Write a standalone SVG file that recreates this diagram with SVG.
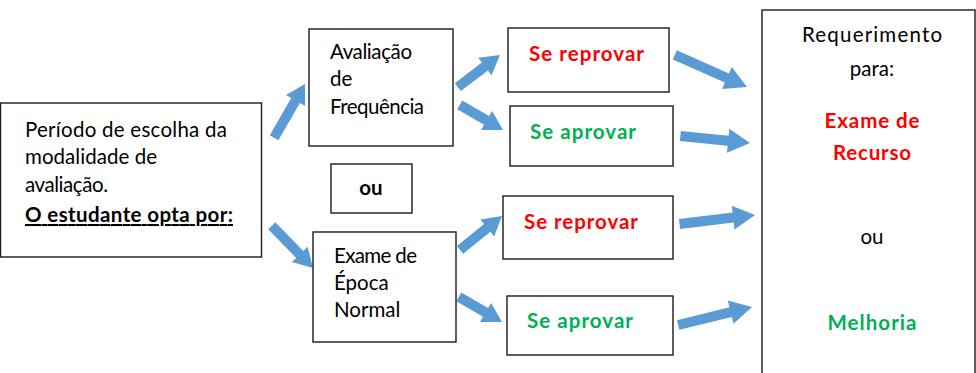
<svg xmlns="http://www.w3.org/2000/svg" width="976" height="373" viewBox="0 0 976 373">
<style>
.box{fill:#fff;stroke:#1a1a1a;stroke-width:1.4}
.t{font-family:Lato,"Liberation Sans",sans-serif;font-size:20.5px;fill:#000}
.b{font-weight:bold}
.red{fill:#ff0000}
.green{fill:#00b050}
.arr{fill:#5b9bd5}
</style>
<rect width="976" height="373" fill="#fff"/>
<g id="connectors">
<polygon class="arr" points="-62,-5 -19,-5 -19,-11 0,0 -19,11 -19,5 -62,5" transform="translate(305,84) rotate(-60.1)"/>
<polygon class="arr" points="-59,-5 -19,-5 -19,-11 0,0 -19,11 -19,5 -59,5" transform="translate(313,268) rotate(45.7)"/>
<polygon class="arr" points="-53,-5 -19,-5 -19,-11 0,0 -19,11 -19,5 -53,5" transform="translate(500,55) rotate(-37.3)"/>
<polygon class="arr" points="-50,-5 -19,-5 -19,-11 0,0 -19,11 -19,5 -50,5" transform="translate(503,130) rotate(30.2)"/>
<polygon class="arr" points="-54,-5 -19,-5 -19,-11 0,0 -19,11 -19,5 -54,5" transform="translate(502,216) rotate(-39)"/>
<polygon class="arr" points="-50,-5 -19,-5 -19,-11 0,0 -19,11 -19,5 -50,5" transform="translate(502,322) rotate(30.2)"/>
<polygon class="arr" points="-79,-5 -22,-5 -22,-12 0,0 -22,12 -22,5 -79,5" transform="translate(747,87) rotate(24)"/>
<polygon class="arr" points="-70,-5 -22,-5 -22,-12 0,0 -22,12 -22,5 -70,5" transform="translate(750,143) rotate(5.7)"/>
<polygon class="arr" points="-76,-5 -22,-5 -22,-12 0,0 -22,12 -22,5 -76,5" transform="translate(755,215) rotate(-6.75)"/>
<polygon class="arr" points="-76,-5 -22,-5 -22,-12 0,0 -22,12 -22,5 -76,5" transform="translate(752,307) rotate(-13.7)"/>
</g>
<g id="periodo">
<rect class="box" x="0.5" y="103" width="261" height="154"/>
<text class="t" x="25" y="137" textLength="202" lengthAdjust="spacing">Período de escolha da</text>
<text class="t" x="25" y="164" textLength="132" lengthAdjust="spacing">modalidade de</text>
<text class="t" x="25" y="192" textLength="83" lengthAdjust="spacing">avaliação.</text>
<text class="t b" x="25" y="222" textLength="208" lengthAdjust="spacing" text-decoration="underline">O estudante opta por:</text>
</g>
<g id="avaliacao">
<rect class="box" x="309" y="29" width="144" height="117"/>
<text class="t" x="330" y="59" textLength="82" lengthAdjust="spacing">Avaliação</text>
<text class="t" x="330" y="86">de</text>
<text class="t" x="330" y="114" textLength="94" lengthAdjust="spacing">Frequência</text>
</g>
<g id="ou">
<rect class="box" x="331" y="164" width="81" height="49"/>
<text class="t b" x="371" y="195" text-anchor="middle" font-size="18">ou</text>
</g>
<g id="exame">
<rect class="box" x="313" y="232" width="143" height="110"/>
<text class="t" x="334" y="263" textLength="83" lengthAdjust="spacing">Exame de</text>
<text class="t" x="334" y="290">Época</text>
<text class="t" x="334" y="317">Normal</text>
</g>
<g id="reprovar1">
<rect class="box" x="508" y="28" width="161" height="64"/>
<text class="t b red" x="529" y="61" textLength="115" lengthAdjust="spacing">Se reprovar</text>
</g>
<g id="aprovar1">
<rect class="box" x="510" y="106" width="163" height="60"/>
<text class="t b green" x="530" y="139" textLength="106" lengthAdjust="spacing">Se aprovar</text>
</g>
<g id="reprovar2">
<rect class="box" x="503" y="196" width="170" height="63"/>
<text class="t b red" x="524" y="229" textLength="114" lengthAdjust="spacing">Se reprovar</text>
</g>
<g id="aprovar2">
<rect class="box" x="507" y="296" width="166" height="59"/>
<text class="t b green" x="527" y="328" textLength="106" lengthAdjust="spacing">Se aprovar</text>
</g>
<g id="requerimento">
<rect class="box" x="762" y="10" width="213" height="380"/>
<text class="t" x="872" y="42" text-anchor="middle" textLength="140" lengthAdjust="spacing">Requerimento</text>
<text class="t" x="872" y="76" text-anchor="middle">para:</text>
<text class="t b red" x="872" y="128" text-anchor="middle" textLength="95" lengthAdjust="spacing">Exame de</text>
<text class="t b red" x="872" y="160" text-anchor="middle" textLength="78" lengthAdjust="spacing">Recurso</text>
<text class="t" x="872" y="244" text-anchor="middle">ou</text>
<text class="t b green" x="872" y="330" text-anchor="middle" textLength="89" lengthAdjust="spacing">Melhoria</text>
</g>
</svg>
